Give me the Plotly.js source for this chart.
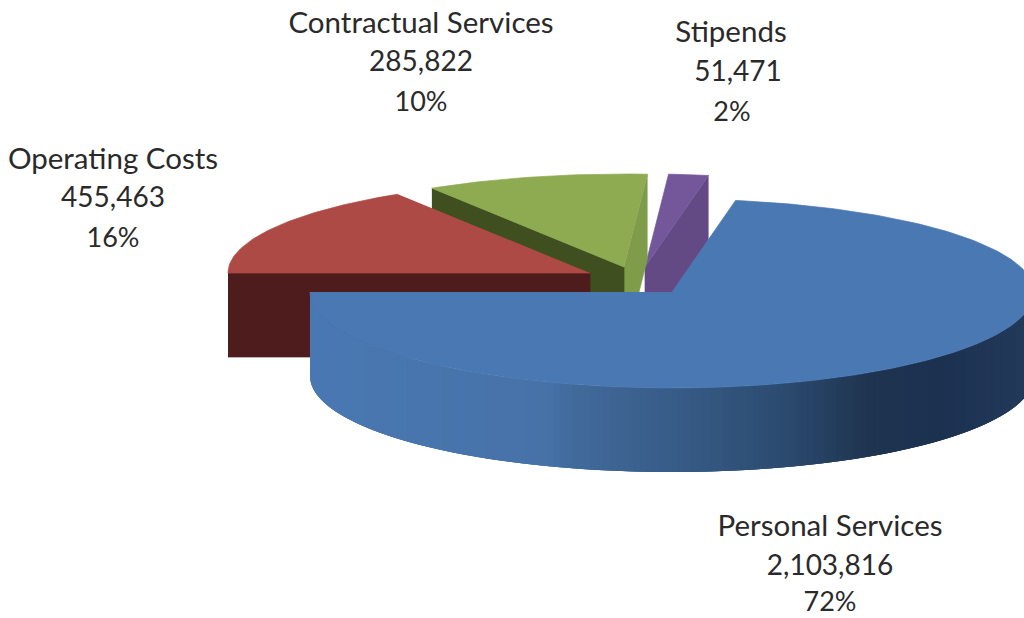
<!DOCTYPE html>
<html>
<head>
<meta charset="utf-8">
<script src="https://cdn.plot.ly/plotly-3.0.1.min.js"></script>
<style>html,body{margin:0;padding:0;background:#fff;overflow:hidden}#chart{width:1024px;height:618px}</style>
</head>
<body>
<div id="chart"></div>
<script>
// Data
const categories = ["Operating Costs", "Contractual Services", "Stipends", "Personal Services"];
const values = [455463, 285822, 51471, 2103816];
const percentLabels = ["16%", "10%", "2%", "72%"];

// Styling of each slice
const topColors = ["#ae4a45", "#8eab51", "#74579b", "#4a78b2"];
const startWallColors = ["#4e1c1c", "#3f4f1f", null, null];
const endWallColors = [null, "#7f9c4a", "#634a85", null];

// Projection of the tilted, exploded pie
const radiusX = 362, radiusYBack = 93, radiusYFront = 96, depth = 84, skewDeg = 1.6;
const apexX = [590, 624, 645, 672];
const apexY = [273, 267, 267, 292];

// Label placement: centre x of each line and y of each line
const labelX = [[113, 113, 113], [421, 421, 421], [731, 738, 732], [830, 830, 830]];
const labelY = [[162, 200, 240], [26, 64, 104], [35, 74, 114], [529, 568, 604]];
const labelSizes = [29.5, 28, 27];

// Side wall shading of the large slice: [x, colour]
const shadeStops = [[310, [74,120,178]], [560, [70,114,168]], [590, [65,105,154]], [700, [54,90,133]],
                    [800, [43,74,110]], [880, [31,52,80]], [950, [28,49,80]], [1024, [34,57,90]]];

const total = values.reduce((a, b) => a + b, 0);
const warp = t => t + skewDeg * Math.sin(t * Math.PI / 180);
const pt = (i, t, dy = 0) => {
  const r = t * Math.PI / 180, s = Math.sin(r);
  return [apexX[i] - radiusX * Math.cos(r), apexY[i] - (s > 0 ? radiusYBack : radiusYFront) * s + dy];
};
const shade = x => {
  for (let k = 1; k < shadeStops.length; k++) {
    if (x <= shadeStops[k][0]) {
      const [x0, c0] = shadeStops[k - 1], [x1, c1] = shadeStops[k];
      const f = Math.max(0, (x - x0) / (x1 - x0));
      return "rgb(" + c0.map((c, j) => Math.round(c + (c1[j] - c) * f)).join(",") + ")";
    }
  }
  return "rgb(" + shadeStops[shadeStops.length - 1][1].join(",") + ")";
};
const poly = (points, color, name, lineWidth) => ({
  type: "scatter", mode: "lines", fill: "toself", fillcolor: color,
  x: points.map(p => p[0]), y: points.map(p => p[1]),
  line: { color: color, width: lineWidth === undefined ? 0.7 : lineWidth }, hoverinfo: name ? "text" : "skip",
  text: name || undefined, showlegend: false
});

// Angular extent of each slice, from its share of the total
let cum = 0;
const spans = values.map(v => {
  const a = cum; cum += v / total * 360;
  return [warp(a), warp(cum)];
});

const traces = [];
[2, 1, 0, 3].forEach(i => {
  const [t0, t1] = spans[i];
  const apex = [apexX[i], apexY[i]];
  const wall = (t, color) => traces.push(poly([pt(i, t), apex, [apex[0], apex[1] + depth], pt(i, t, depth)], color));
  if (endWallColors[i]) wall(t1, endWallColors[i]);
  if (startWallColors[i]) wall(t0, startWallColors[i]);
  // outer wall, only where the rim faces the viewer; each band overlaps the next so no seams show
  if (t1 > 180) {
    const from = Math.max(t0, 180), step = 1;
    for (let t = t1 - step; t >= from - 1e-6; t -= step) {
      const e = Math.min(t + 3 * step, t1);
      const rim = [];
      for (let a = t; a <= e + 1e-6; a += step / 2) rim.push(pt(i, a));
      const low = rim.map((_, k) => [rim[rim.length - 1 - k][0], rim[rim.length - 1 - k][1] + depth]);
      traces.push(poly(rim.concat(low), shade(pt(i, t + step / 2)[0]), null, 0));
    }
  }
  const face = [apex];
  const n = Math.ceil((t1 - t0));
  for (let k = 0; k <= n; k++) face.push(pt(i, t0 + (t1 - t0) * k / n));
  traces.push(poly(face, topColors[i], categories[i] + ": " + values[i].toLocaleString("en-US") + " (" + percentLabels[i] + ")"));
});

// Labels
const tx = [], ty = [], tt = [], ts = [];
categories.forEach((c, i) => {
  [c, values[i].toLocaleString("en-US"), percentLabels[i]].forEach((s, j) => {
    tx.push(labelX[i][j]); ty.push(labelY[i][j]); tt.push(s); ts.push(labelSizes[j]);
  });
});
traces.push({
  type: "scatter", mode: "text", x: tx, y: ty, text: tt, textposition: "middle center",
  textfont: { family: "Lato, 'Open Sans', sans-serif", size: ts, color: "#2a2a2a" },
  hoverinfo: "skip", showlegend: false, cliponaxis: false
});

Plotly.newPlot("chart", traces, {
  width: 1024, height: 618, margin: { l: 0, r: 0, t: 0, b: 0 },
  paper_bgcolor: "#ffffff", plot_bgcolor: "#ffffff", showlegend: false,
  xaxis: { range: [0, 1024], visible: false, fixedrange: true },
  yaxis: { range: [618, 0], visible: false, fixedrange: true }
}, { displayModeBar: false });
</script>
</body>
</html>
